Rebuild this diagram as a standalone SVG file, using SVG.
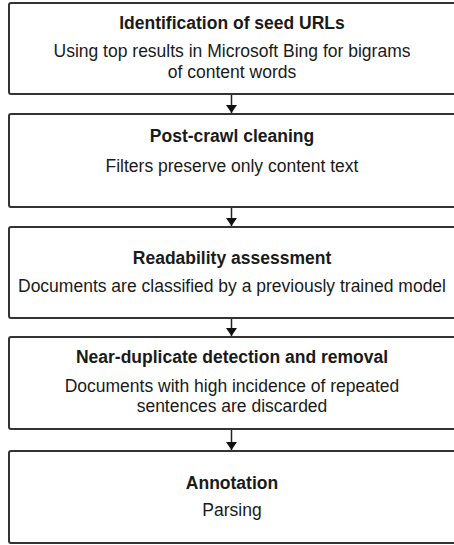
<svg xmlns="http://www.w3.org/2000/svg" width="454" height="545" viewBox="0 0 454 545">
<defs>
<style>
.box{fill:#fff;stroke:#333;stroke-width:2}
.t{font-family:"Liberation Sans",Arial,sans-serif;font-size:17.5px;fill:#1a1a1a;text-anchor:middle}
.b{font-weight:bold}
.c{stroke:#222;stroke-width:1.5;fill:none}
</style>
<marker id="ah" viewBox="0 0 8 11" refX="8" refY="5.5" markerWidth="8" markerHeight="11" markerUnits="userSpaceOnUse" orient="auto">
<path d="M0,0 L8,5.5 L0,11 z" fill="#111"/>
</marker>
</defs>
<rect width="454" height="545" fill="#fff"/>
<g id="connectors">
<line class="c" x1="231.5" y1="95" x2="231.5" y2="113" marker-end="url(#ah)"/>
<line class="c" x1="231.5" y1="208" x2="231.5" y2="226" marker-end="url(#ah)"/>
<line class="c" x1="231.5" y1="319" x2="231.5" y2="336" marker-end="url(#ah)"/>
<line class="c" x1="231.5" y1="430" x2="231.5" y2="450" marker-end="url(#ah)"/>
</g>
<g id="n1">
<rect class="box" x="9" y="3" width="470" height="91" rx="2"/>
<text class="t b" x="232" y="29">Identification of seed URLs</text>
<text class="t" x="232" y="57">Using top results in Microsoft Bing for bigrams</text>
<text class="t" x="232" y="78">of content words</text>
</g>
<g id="n2">
<rect class="box" x="9" y="114" width="470" height="93" rx="2"/>
<text class="t b" x="232" y="142">Post-crawl cleaning</text>
<text class="t" x="232" y="172">Filters preserve only content text</text>
</g>
<g id="n3">
<rect class="box" x="9" y="227" width="470" height="91" rx="2"/>
<text class="t b" x="232" y="264">Readability assessment</text>
<text class="t" x="232" y="292">Documents are classified by a previously trained model</text>
</g>
<g id="n4">
<rect class="box" x="9" y="337" width="470" height="92" rx="2"/>
<text class="t b" x="232" y="363">Near-duplicate detection and removal</text>
<text class="t" x="232" y="392">Documents with high incidence of repeated</text>
<text class="t" x="232" y="412">sentences are discarded</text>
</g>
<g id="n5">
<rect class="box" x="9" y="451" width="470" height="92" rx="2"/>
<text class="t b" x="232" y="489">Annotation</text>
<text class="t" x="232" y="516">Parsing</text>
</g>
</svg>
